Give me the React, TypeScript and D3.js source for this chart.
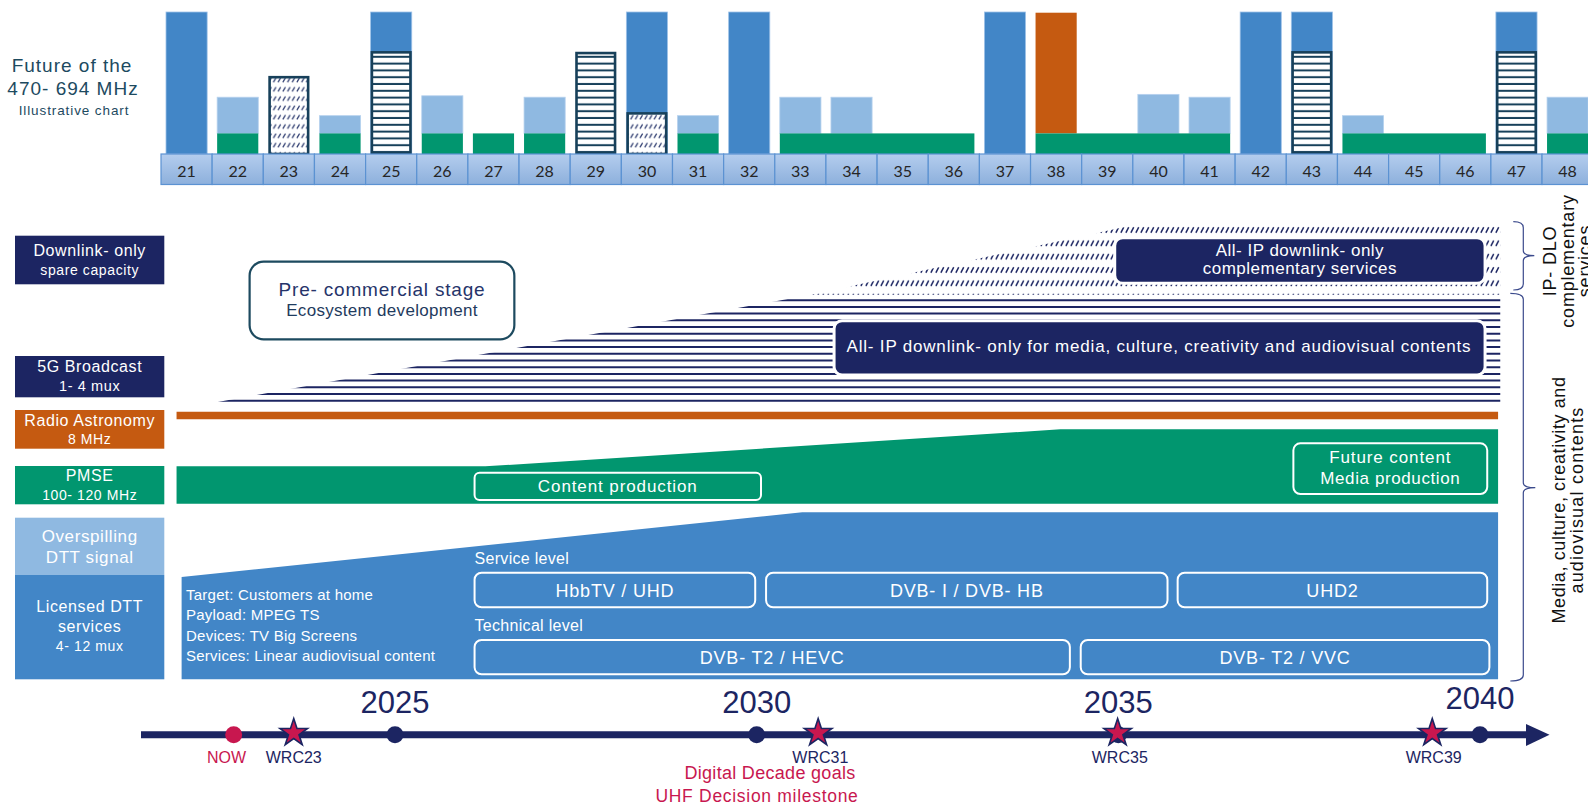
import React from "react";
import * as d3 from "d3";

const FONT = "'Liberation Sans', Arial, Helvetica, sans-serif";
const NUM_FONT = "Lato, 'Open Sans', sans-serif";

const NAVY = "#1c2562";
const ORANGE = "#c55a11";
const GREEN = "#01966f";
const BLUE = "#4286c7";
const LIGHT = "#8fb9e1";
const TEAL = "#1d4a5f";
const CRIMSON = "#c8174f";
const BAR_EDGE = "#17405a";

// ---------- Top chart: UHF channels 21-48 ----------
const channels = [21, 22, 23, 24, 25, 26, 27, 28, 29, 30, 31, 32, 33, 34, 35, 36, 37, 38, 39, 40, 41, 42, 43, 44, 45, 46, 47, 48];
const licensedDTT = [100, 0, 0, 0, 100, 0, 0, 0, 0, 100, 0, 100, 0, 0, 0, 0, 100, 0, 0, 0, 0, 100, 100, 0, 0, 0, 100, 0];
const overspillTop = [0, 40, 0, 27, 0, 41, 0, 40, 0, 0, 27, 0, 40, 40, 0, 0, 0, 0, 0, 42, 40, 0, 0, 27, 0, 0, 0, 40];
const pmseRanges: [number, number][] = [[22, 22], [24, 24], [26, 26], [27, 27], [28, 28], [31, 31], [33, 36], [38, 41], [44, 46], [48, 48]];
const pmseHeight = 14.5;
const radioAstronomyTop = [0, 0, 0, 0, 0, 0, 0, 0, 0, 0, 0, 0, 0, 0, 0, 0, 0, 99.5, 0, 0, 0, 0, 0, 0, 0, 0, 0, 0];
const broadcast5GTop = [0, 0, 0, 0, 72.5, 0, 0, 0, 72, 0, 0, 0, 0, 0, 0, 0, 0, 0, 0, 0, 0, 0, 72.5, 0, 0, 0, 72.5, 0];
const downlinkOnlyTop = [0, 0, 55, 0, 0, 0, 0, 0, 0, 29.5, 0, 0, 0, 0, 0, 0, 0, 0, 0, 0, 0, 0, 0, 0, 0, 0, 0, 0];

// ---------- Roadmap (year, relative level) ----------
const dttYears = [2022.05, 2030.63, 2040.25];
const dttLevels = [22.5, 36.7, 36.7];
const pmseYears = [2021.98, 2026.25, 2034.2, 2040.25];
const pmseLevels = [46.8, 46.8, 54.95, 54.95];
const pmseBase = 38.6;
const radioYears = [2021.98, 2040.25];
const radioBand = [57.14, 58.81];
const bcastYears = [2022.55, 2030.75, 2040.28];
const bcastLevels = [60.95, 84.5, 84.5];
const dloYears = [2030.75, 2035.26, 2040.28];
const dloLevels = [84.5, 100, 100];

const sideLabelLines = [
  ["Downlink- only", "spare capacity"],
  ["5G Broadcast", "1- 4 mux"],
  ["Radio Astronomy", "8 MHz"],
  ["PMSE", "100- 120 MHz"],
  ["Overspilling", "DTT signal"],
  ["Licensed DTT", "services", "4- 12 mux"],
];

const serviceLabels = ["HbbTV / UHD", "DVB- I / DVB- HB", "UHD2"];
const serviceStart = [2026.1, 2030.13, 2035.82];
const serviceEnd = [2029.98, 2035.68, 2040.1];
const technicalLabels = ["DVB- T2 / HEVC", "DVB- T2 / VVC"];
const technicalStart = [2026.1, 2034.48];
const technicalEnd = [2034.33, 2040.13];
const dttNotes = ["Target: Customers at home", "Payload: MPEG TS", "Devices: TV Big Screens", "Services: Linear audiovisual content"];

const yearTicks = [2025, 2030, 2035, 2040];
const milestoneLabels = ["NOW", "WRC23", "WRC31", "WRC35", "WRC39"];
const milestoneYears = [2022.77, 2023.6, 2030.85, 2034.99, 2039.34];
const milestoneLabelYears = [2022.67, 2023.6, 2030.88, 2035.02, 2039.36];
const milestoneKinds = ["dot", "star", "star", "star", "star"];

export default function App() {
  const step = 51.15;
  const x = d3.scaleBand<number>().domain(channels).range([161, 161 + step * channels.length]).padding(0);
  const bw = x.bandwidth();
  const yTop = d3.scaleLinear().domain([0, 100]).range([154, 12]);
  const t = d3.scaleLinear().domain([2025, 2040]).range([395, 1480]);
  const lv = d3.scaleLinear().domain([0, 100]).range([679.3, 224.3]);
  const inset = 5;

  const area = (years: number[], levels: number[], base: number) =>
    d3.area<number>()
      .x((_, i) => t(years[i]))
      .y0(lv(base))
      .y1((_, i) => lv(levels[i]))(levels) as string;

  const dttPath = area(dttYears, dttLevels, 0);
  const pmsePath = area(pmseYears, pmseLevels, pmseBase);
  const radioPath = area(radioYears, [radioBand[1], radioBand[1]], radioBand[0]);
  const bcastPath = area(bcastYears, bcastLevels, bcastLevels[0]);
  const dloPath = area(dloYears, dloLevels, dloLevels[0]);

  const stripeYs = d3.range(lv(bcastLevels[0]) - 1.3, lv(bcastLevels[1]), -6.7);

  const starPath = d3.symbol().type(d3.symbolStar).size(236)() as string;

  const brace = (bx: number, y1: number, y2: number, tipY: number, w: number, tip: number) =>
    `M${bx - w},${y1} Q${bx},${y1} ${bx},${y1 + 6} L${bx},${tipY - 5} Q${bx},${tipY} ${bx + tip},${tipY} Q${bx},${tipY} ${bx},${tipY + 5} L${bx},${y2 - 6} Q${bx},${y2} ${bx - w},${y2}`;

  const sideBoxes = [
    { y0: 235.7, y1: 284.3, fill: NAVY, ys: [250, 270], fs: [16, 14] },
    { y0: 356, y1: 397.3, fill: NAVY, ys: [366.5, 385.5], fs: [16, 14.5] },
    { y0: 410, y1: 448.7, fill: ORANGE, ys: [420.5, 438.5], fs: [16, 14] },
    { y0: 466, y1: 504.3, fill: GREEN, ys: [475.5, 495], fs: [16, 14] },
    { y0: 517.7, y1: 575, fill: LIGHT, ys: [536, 557.7], fs: [17, 17] },
    { y0: 575, y1: 679.3, fill: BLUE, ys: [606, 626, 645.7], fs: [16, 16, 14] },
  ];

  return (
    <svg width={1588} height={806} style={{ position: "absolute", left: 0, top: 0, background: "#fff" }} fontFamily={FONT}>
      <defs>
        <linearGradient id="cellGrad" x1="0" y1="0" x2="0" y2="1">
          <stop offset="0" stopColor="#b4cdee" />
          <stop offset="1" stopColor="#8db0dc" />
        </linearGradient>
        <pattern id="hatchTop" patternUnits="userSpaceOnUse" x={0} y={75.4} width={4.7} height={9.3}>
          <rect width={4.7} height={9.3} fill="#fff" />
          <line x1={0.8} y1={6.9} x2={3.4} y2={2.5} stroke="#2c3a6e" strokeWidth={1.2} />
        </pattern>
        <pattern id="stripeTop" patternUnits="userSpaceOnUse" x={0} y={51} width={10} height={6.8}>
          <rect width={10} height={6.8} fill="#fff" />
          <rect y={4.8} width={10} height={2} fill={BAR_EDGE} />
        </pattern>
        <pattern id="hatchLow" patternUnits="userSpaceOnUse" x={0} y={223.33} width={5} height={13.33}>
          <line x1={0.9} y1={9.4} x2={3.7} y2={4.0} stroke={NAVY} strokeWidth={1.5} />
        </pattern>
        <clipPath id="bcastClip">
          <path d={bcastPath} />
        </clipPath>
      </defs>

      {/* ---------- Title ---------- */}
      <g fill={TEAL} textAnchor="middle">
        <text x={72} y={65} fontSize={19} letterSpacing={1} dominantBaseline="central">Future of the</text>
        <text x={73} y={88} fontSize={19} letterSpacing={1} dominantBaseline="central">470- 694 MHz</text>
        <text x={74} y={110} fontSize={13.5} letterSpacing={0.9} dominantBaseline="central">Illustrative chart</text>
      </g>

      {/* ---------- Channel bars ---------- */}
      {channels.map((c, i) => {
        const x0 = (x(c) as number) + inset;
        const w = bw - 2 * inset;
        return (
          <g key={"b" + c}>
            {licensedDTT[i] > 0 && (
              <rect x={x0} y={yTop(licensedDTT[i])} width={w} height={yTop(0) - yTop(licensedDTT[i])} fill={BLUE} stroke="#9fc2e8" strokeWidth={0.8} />
            )}
            {overspillTop[i] > 0 && (
              <rect x={x0} y={yTop(overspillTop[i])} width={w} height={yTop(pmseHeight) - yTop(overspillTop[i])} fill={LIGHT} stroke="#b7d2ee" strokeWidth={0.8} />
            )}
            {radioAstronomyTop[i] > 0 && (
              <rect x={x0} y={yTop(radioAstronomyTop[i])} width={w} height={yTop(pmseHeight) - yTop(radioAstronomyTop[i])} fill={ORANGE} />
            )}
          </g>
        );
      })}
      {pmseRanges.map(([a, b]) => (
        <rect key={"p" + a} x={(x(a) as number) + inset} y={yTop(pmseHeight)} width={(x(b) as number) + bw - inset - ((x(a) as number) + inset)} height={yTop(0) - yTop(pmseHeight)} fill={GREEN} />
      ))}
      {channels.map((c, i) => {
        const x0 = (x(c) as number) + inset + 1.3;
        const w = bw - 2 * inset - 2.6;
        return (
          <g key={"h" + c}>
            {downlinkOnlyTop[i] > 0 && (
              <rect x={x0} y={yTop(downlinkOnlyTop[i]) + 1.3} width={w} height={yTop(0) - yTop(downlinkOnlyTop[i]) - 1.3} fill="url(#hatchTop)" stroke={BAR_EDGE} strokeWidth={2.6} />
            )}
            {broadcast5GTop[i] > 0 && (
              <rect x={x0} y={yTop(broadcast5GTop[i]) + 1.3} width={w} height={yTop(0) - yTop(broadcast5GTop[i]) - 1.3} fill="url(#stripeTop)" stroke={BAR_EDGE} strokeWidth={2.6} />
            )}
          </g>
        );
      })}

      {/* ---------- Channel cells ---------- */}
      {channels.map((c) => (
        <g key={"c" + c}>
          <rect x={x(c)} y={154} width={bw} height={30.5} fill="url(#cellGrad)" stroke="#5b92d2" strokeWidth={1.2} />
          <text x={(x(c) as number) + bw / 2} y={170} textAnchor="middle" dominantBaseline="central" fontFamily={NUM_FONT} fontSize={16} fill="#262626">{c}</text>
        </g>
      ))}

      {/* ---------- Side labels ---------- */}
      {sideBoxes.map((b, i) => (
        <g key={"s" + i}>
          <rect x={15} y={b.y0} width={149.3} height={b.y1 - b.y0} fill={b.fill} />
          {sideLabelLines[i].map((ln, j) => (
            <text key={j} x={89.7} y={b.ys[j]} fontSize={b.fs[j]} fill="#fff" textAnchor="middle" dominantBaseline="central" letterSpacing={0.6}>{ln}</text>
          ))}
        </g>
      ))}

      {/* ---------- Roadmap areas ---------- */}
      <path d={dttPath} fill={BLUE} />
      <path d={pmsePath} fill={GREEN} />
      <path d={radioPath} fill={ORANGE} />
      <path d={dloPath} fill="url(#hatchLow)" />
      <g clipPath="url(#bcastClip)">
        {stripeYs.map((yy, i) => (
          <line key={i} x1={t(2022)} x2={t(2040.4)} y1={yy} y2={yy} stroke={NAVY} strokeWidth={2} />
        ))}
      </g>

      {/* Pre-commercial box */}
      <rect x={t(2022.99)} y={261.7} width={t(2026.65) - t(2022.99)} height={77.6} rx={14} fill="#fff" stroke={TEAL} strokeWidth={2.2} />
      <text x={(t(2022.99) + t(2026.65)) / 2} y={289} fontSize={19} fill="#26346a" textAnchor="middle" dominantBaseline="central" letterSpacing={0.8}>Pre- commercial stage</text>
      <text x={(t(2022.99) + t(2026.65)) / 2} y={310.7} fontSize={17} fill="#1f3b5e" textAnchor="middle" dominantBaseline="central" letterSpacing={0.3}>Ecosystem development</text>

      {/* DLO box */}
      <rect x={t(2034.95)} y={237.7} width={t(2040.07) - t(2034.95)} height={45.6} rx={8} fill={NAVY} stroke="#fff" strokeWidth={3} />
      <text x={(t(2034.95) + t(2040.07)) / 2} y={250.5} fontSize={17} fill="#fff" textAnchor="middle" dominantBaseline="central" letterSpacing={0.5}>All- IP downlink- only</text>
      <text x={(t(2034.95) + t(2040.07)) / 2} y={268} fontSize={17} fill="#fff" textAnchor="middle" dominantBaseline="central" letterSpacing={0.5}>complementary services</text>

      {/* Media box */}
      <rect x={t(2031.07)} y={320.7} width={t(2040.07) - t(2031.07)} height={54.3} rx={8} fill={NAVY} stroke="#fff" strokeWidth={3} />
      <text x={(t(2031.07) + t(2040.07)) / 2 - 1} y={346.5} fontSize={17} fill="#fff" textAnchor="middle" dominantBaseline="central" textLength={624} lengthAdjust="spacing">All- IP downlink- only for media, culture, creativity and audiovisual contents</text>

      {/* PMSE boxes */}
      <rect x={t(2026.1)} y={472.7} width={t(2030.06) - t(2026.1)} height={27.3} rx={5} fill="none" stroke="#fff" strokeWidth={2} />
      <text x={(t(2026.1) + t(2030.06)) / 2} y={486.7} fontSize={17} fill="#fff" textAnchor="middle" dominantBaseline="central" letterSpacing={0.9}>Content production</text>
      <rect x={t(2037.42)} y={443.3} width={t(2040.1) - t(2037.42)} height={50.7} rx={7} fill="none" stroke="#fff" strokeWidth={2} />
      <text x={(t(2037.42) + t(2040.1)) / 2} y={457} fontSize={17} fill="#fff" textAnchor="middle" dominantBaseline="central" letterSpacing={0.9}>Future content</text>
      <text x={(t(2037.42) + t(2040.1)) / 2} y={478.5} fontSize={17} fill="#fff" textAnchor="middle" dominantBaseline="central" letterSpacing={0.6}>Media production</text>

      {/* DTT details */}
      {dttNotes.map((n, i) => (
        <text key={n} x={186} y={[594.3, 614.3, 635, 655][i]} fontSize={15} fill="#fff" dominantBaseline="central" letterSpacing={0.25}>{n}</text>
      ))}
      <text x={t(2026.1)} y={558.3} fontSize={16} fill="#fff" dominantBaseline="central" letterSpacing={0.3}>Service level</text>
      <text x={t(2026.1)} y={625} fontSize={16} fill="#fff" dominantBaseline="central" letterSpacing={0.3}>Technical level</text>
      {serviceLabels.map((s, i) => (
        <g key={s}>
          <rect x={t(serviceStart[i])} y={572.7} width={t(serviceEnd[i]) - t(serviceStart[i])} height={34.6} rx={7} fill="none" stroke="#fff" strokeWidth={2} />
          <text x={(t(serviceStart[i]) + t(serviceEnd[i])) / 2} y={590.5} fontSize={18} fill="#fff" textAnchor="middle" dominantBaseline="central" letterSpacing={0.8}>{s}</text>
        </g>
      ))}
      {technicalLabels.map((s, i) => (
        <g key={s}>
          <rect x={t(technicalStart[i])} y={640} width={t(technicalEnd[i]) - t(technicalStart[i])} height={34.3} rx={7} fill="none" stroke="#fff" strokeWidth={2} />
          <text x={(t(technicalStart[i]) + t(technicalEnd[i])) / 2} y={657.5} fontSize={18} fill="#fff" textAnchor="middle" dominantBaseline="central" letterSpacing={0.8}>{s}</text>
        </g>
      ))}

      {/* Braces and vertical labels */}
      <path d={brace(1523.3, 221.7, 290, 255.7, 10, 11)} fill="none" stroke="#3b4a8c" strokeWidth={1.2} />
      <path d={brace(1523.3, 293.3, 681, 487.7, 13, 12)} fill="none" stroke="#3b4a8c" strokeWidth={1.2} />
      <g transform="translate(1567.5,261) rotate(-90)" fill="#111" fontSize={18} textAnchor="middle">
        <text x={0} y={-17.5} dominantBaseline="central" letterSpacing={0.8}>IP- DLO</text>
        <text x={0} y={0} dominantBaseline="central" letterSpacing={0.8}>complementary</text>
        <text x={0} y={17.5} dominantBaseline="central" letterSpacing={0.8}>services</text>
      </g>
      <g transform="translate(1568,500) rotate(-90)" fill="#111" fontSize={18} textAnchor="middle">
        <text x={0} y={-9.2} dominantBaseline="central" letterSpacing={0.6}>Media, culture, creativity and</text>
        <text x={0} y={9.2} dominantBaseline="central" letterSpacing={1.2}>audiovisual contents</text>
      </g>

      {/* ---------- Timeline ---------- */}
      <line x1={141} x2={1527} y1={734.7} y2={734.7} stroke={NAVY} strokeWidth={7} />
      <path d="M1526,724 L1549.5,734.7 L1526,746 Z" fill={NAVY} />
      {yearTicks.map((y) => (
        <g key={y}>
          <circle cx={t(y)} cy={734.7} r={8.5} fill={NAVY} />
          <text x={t(y)} y={y === 2040 ? 709 : 713} fontSize={31} fill={NAVY} textAnchor="middle">{y}</text>
        </g>
      ))}
      {milestoneLabels.map((m, i) => (
        <g key={m}>
          {milestoneKinds[i] === "dot" ? (
            <circle cx={t(milestoneYears[i])} cy={734.7} r={8.5} fill={CRIMSON} />
          ) : (
            <path d={starPath} transform={`translate(${t(milestoneYears[i])},733)`} fill={CRIMSON} stroke={NAVY} strokeWidth={1.6} />
          )}
          <text x={t(milestoneLabelYears[i])} y={757} fontSize={16} fill={i === 0 ? CRIMSON : NAVY} textAnchor="middle" dominantBaseline="central">{m}</text>
        </g>
      ))}
      <text x={770} y={773} fontSize={18} fill={CRIMSON} textAnchor="middle" dominantBaseline="central" letterSpacing={0.3}>Digital Decade goals</text>
      <text x={757} y={796} fontSize={17.5} fill={CRIMSON} textAnchor="middle" dominantBaseline="central" letterSpacing={0.7}>UHF Decision milestone</text>
    </svg>
  );
}
